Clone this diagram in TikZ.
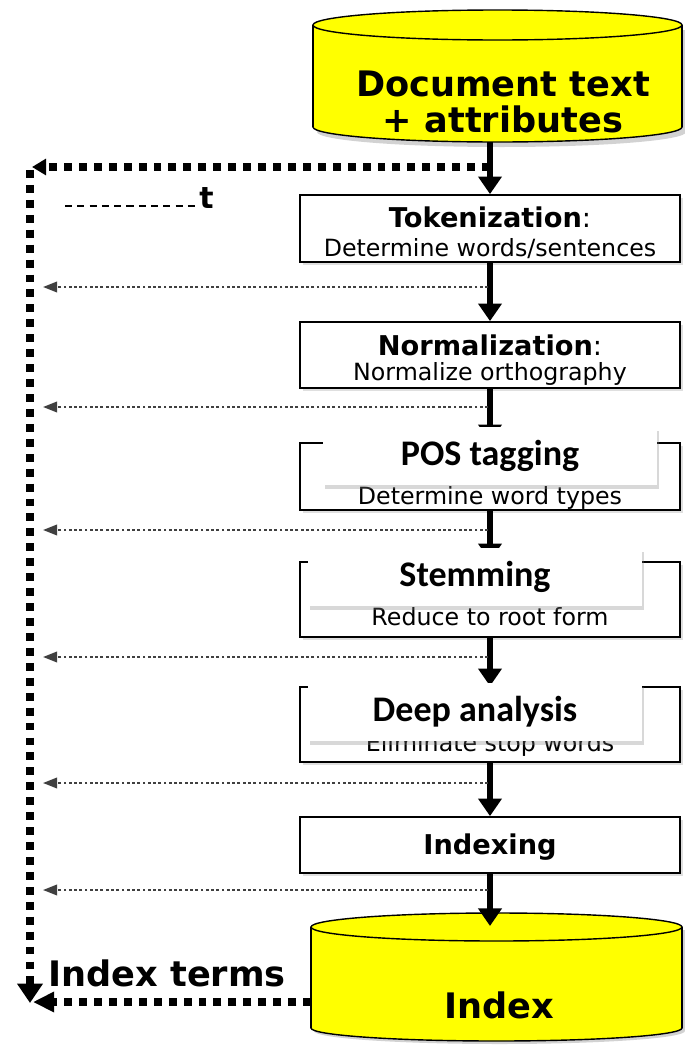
\documentclass[tikz,border=0pt]{standalone}
\usepackage{fontspec}
\setmainfont{DejaVu Sans}
\newfontfamily\tagfont{Carlito}
\usetikzlibrary{arrows.meta,shadows}
\definecolor{dbyellow}{RGB}{255,255,0}

\tikzset{
  stepbox/.style={draw=black, line width=1pt, fill=white, minimum width=7.6cm,
    inner sep=0pt, drop shadow={shadow xshift=1.5pt, shadow yshift=-1.5pt, opacity=0.25}},
  boxtitle/.style={font=\fontsize{15.5}{18}\selectfont\bfseries, inner sep=0pt},
  boxsub/.style={font=\fontsize{13.5}{16}\selectfont, inner sep=0pt},
  tagbox/.style={fill=white, minimum width=6.68cm, minimum height=1.16cm, inner sep=0pt,
    font=\tagfont\fontsize{20.5}{24}\selectfont\bfseries,
    drop shadow={shadow xshift=1pt, shadow yshift=-2pt, opacity=0.3}},
  dbtext/.style={font=\fontsize{20}{20}\selectfont\bfseries, inner sep=0pt, align=center},
  flow/.style={line width=3.4pt, -{Triangle[width=13pt,length=10pt]}},
  feed/.style={line width=1.1pt, black!75, dash pattern=on 1.6pt off 1.4pt,
    -{Triangle[width=6pt,length=8pt]}},
  backline/.style={line width=4pt, dash pattern=on 4.5pt off 4pt},
  cyl/.style={fill=dbyellow, draw=black, line width=0.8pt},
}

\begin{document}
\begin{tikzpicture}[x=0.02cm, y=-0.02cm]
    \useasboundingbox (0,0) rectangle (685,1045);

    % top database
    \fill[gray!35] (501.5,132) ellipse [x radius=184.5, y radius=15];
    \fill[gray!35] (317,30) rectangle (686,132);
    \filldraw[cyl] (497.5,127) ellipse [x radius=184.5, y radius=15];
    \fill[dbyellow] (313,25) rectangle (682,127);
    \draw[cyl] (313,25) -- (313,127) (682,25) -- (682,127);
    \filldraw[cyl] (497.5,25) ellipse [x radius=184.5, y radius=15];
    \node[dbtext] (docs) at (503,102) {Document text\\+ attributes};
    \coordinate (docsout) at (490,142);

    % bottom database
    \fill[gray!35] (499.5,1031) ellipse [x radius=185.5, y radius=13];
    \fill[gray!35] (314,930) rectangle (685,1031);
    \filldraw[cyl] (496.5,1028) ellipse [x radius=185.5, y radius=13];
    \fill[dbyellow] (311,927) rectangle (682,1028);
    \draw[cyl] (311,927) -- (311,1028) (682,927) -- (682,1028);
    \filldraw[cyl] (496.5,927) ellipse [x radius=185.5, y radius=14];
    \node[dbtext] (index) at (499,1005) {Index};
    \coordinate (indexin) at (490,926);
    \coordinate (indexout) at (311,1002);

    % processing steps
    \node[stepbox, minimum height=1.34cm] (tok) at (490,228.5) {};
    \node[boxtitle] at (490,217) {Tokenization\textmd{:}};
    \node[boxsub] at (490,249) {Determine words/sentences};

    \node[stepbox, minimum height=1.32cm] (norm) at (490,355) {};
    \node[boxtitle] at (490,345) {Normalization\textmd{:}};
    \node[boxsub] at (490,374) {Normalize orthography};

    \node[stepbox, minimum height=1.34cm] (pos) at (490,476.5) {};
    \node[boxsub] at (490,498) {Determine word types};

    \node[stepbox, minimum height=1.5cm] (stem) at (490,599.5) {};
    \node[boxsub] at (490,617) {Reduce to root form};

    \node[stepbox, minimum height=1.5cm] (deep) at (490,724.5) {};
    \node[boxsub] at (490,745) {Eliminate stop words};

    \node[stepbox, minimum height=1.12cm] (idx) at (490,845) {};
    \node[boxtitle] at (490,847) {Indexing};

    % main flow
    \draw[flow] (docsout) -- (tok.north);
    \draw[flow] (tok.south) -- (norm.north);
    \draw[flow] (norm.south) -- (pos.north);
    \draw[flow] (pos.south) -- (stem.north);
    \draw[flow] (stem.south) -- (deep.north);
    \draw[flow] (deep.south) -- (idx.north);
    \draw[flow] (idx.south) -- (indexin);

    % pasted labels
    \node[tagbox] (postag) at (490,456) {POS tagging};
    \node[tagbox] (stemtag) at (475,577) {Stemming};
    \node[tagbox] (deeptag) at (475,712) {Deep analysis};

    % side outputs
    \foreach \y [count=\i] in {287,407,530,657,783,890} {
        \coordinate (r\i) at (488,\y);
        \coordinate (l\i) at (43,\y);
        \draw[feed] (r\i) -- (l\i);
    }

    % collected terms
    \coordinate (tapA) at (490,167);
    \coordinate (cornerT) at (32,167);
    \coordinate (cornerB) at (30,1003);
    \draw[backline, -{Triangle[width=9pt,length=8pt]}] (tapA) -- (cornerT);
    \draw[backline, -{Triangle[width=14pt,length=11pt]}] (30,170) -- (cornerB);
    \draw[backline, -{Triangle[width=11pt,length=12pt]}] (indexout) -- (33,1002);
    \node[font=\fontsize{20}{20}\selectfont\bfseries, inner sep=0pt, anchor=west] (terms) at (48,973) {Index terms};

    % left-over fragment
    \node[font=\fontsize{17}{17}\selectfont\bfseries, inner sep=0pt, anchor=base west] (frag) at (199,208) {t};
    \draw[line width=1.6pt, dash pattern=on 4pt off 3pt] (65,206) -- (196,206);
\end{tikzpicture}
\end{document}
